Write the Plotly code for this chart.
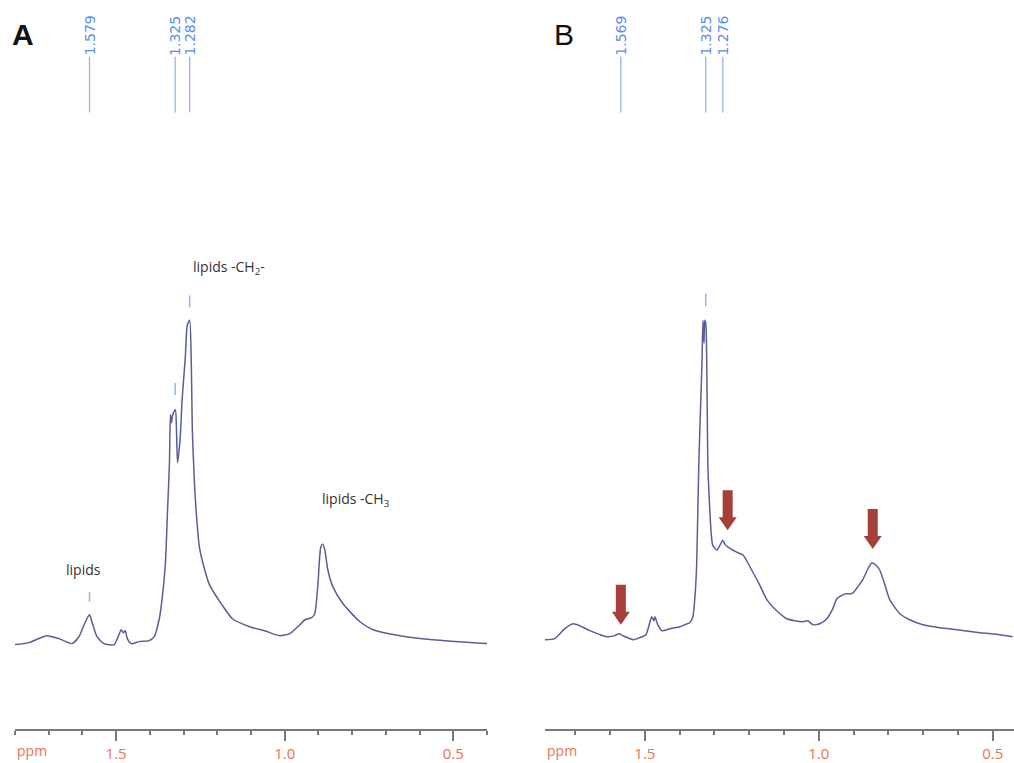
import plotly.graph_objects as go

# ---- Spectrum A (chemical shift in ppm, intensity in arbitrary units) ----
ppm_a = [1.800, 1.759, 1.705, 1.670, 1.631, 1.610, 1.595, 1.579, 1.571, 1.557,
         1.536, 1.506, 1.494, 1.485, 1.479, 1.473, 1.467, 1.455, 1.432, 1.402,
         1.387, 1.372, 1.363, 1.354, 1.348, 1.342, 1.339, 1.336, 1.333, 1.327,
         1.324, 1.321, 1.318, 1.310, 1.304, 1.295, 1.289, 1.282, 1.277, 1.274,
         1.268, 1.262, 1.253, 1.238, 1.223, 1.188, 1.155, 1.104, 1.060, 1.015,
         0.985, 0.955, 0.940, 0.920, 0.911, 0.902, 0.893, 0.887, 0.881, 0.872,
         0.857, 0.827, 0.777, 0.738, 0.658, 0.560, 0.400]
int_a = [0, 2, 9, 6, 1, 8, 20, 30, 22, 8,
         1, 0, 8, 15, 12, 14, 6, 1, 3, 4,
         8, 26, 48, 81, 131, 181, 231, 223, 230, 235,
         236, 215, 183, 208, 248, 288, 321, 326, 281, 215,
         165, 131, 98, 76, 60, 41, 26, 18, 14, 9,
         11, 20, 25, 27, 31, 58, 98, 101, 95, 75,
         58, 41, 23, 15, 9, 5, 1]

# ---- Spectrum B ----
ppm_b = [1.787, 1.759, 1.730, 1.707, 1.687, 1.658, 1.629, 1.609, 1.586, 1.575,
         1.563, 1.534, 1.514, 1.497, 1.486, 1.480, 1.474, 1.471, 1.463, 1.451,
         1.428, 1.399, 1.385, 1.371, 1.362, 1.356, 1.351, 1.345, 1.336, 1.333,
         1.330, 1.328, 1.325, 1.322, 1.319, 1.313, 1.310, 1.305, 1.293, 1.284,
         1.276, 1.270, 1.261, 1.236, 1.218, 1.193, 1.170, 1.149, 1.121, 1.092,
         1.069, 1.046, 1.032, 1.017, 0.997, 0.977, 0.960, 0.948, 0.925, 0.911,
         0.902, 0.888, 0.874, 0.859, 0.848, 0.836, 0.825, 0.810, 0.796, 0.767,
         0.739, 0.701, 0.652, 0.603, 0.537, 0.480, 0.443]
int_b = [5, 6, 16, 21, 19, 14, 10, 8, 9, 11,
         9, 5, 7, 10, 22, 28, 24, 28, 20, 14,
         16, 18, 20, 22, 28, 48, 81, 181, 281, 326,
         303, 326, 323, 281, 181, 133, 115, 100, 95, 100,
         105, 101, 98, 93, 90, 75, 60, 45, 34, 26,
         24, 23, 24, 20, 21, 26, 36, 46, 51, 51,
         52, 58, 65, 76, 82, 80, 75, 60, 45, 31,
         25, 20, 17, 15, 12, 10, 8]

# ---- Peak-pick labels ----
picks_a = [1.579, 1.325, 1.282]
picks_b = [1.569, 1.325, 1.276]

# short peak markers: (ppm, lower intensity, upper intensity)
marks_a = [(1.579, 43, 53), (1.325, 251, 263), (1.282, 339, 351)]
marks_b = [(1.325, 340, 353)]

# ---- Assignments (text, ppm, intensity) ----
assign_a = [("lipids", 1.598, 76),
            ("lipids -CH<sub>2</sub>-", 1.164, 379),
            ("lipids -CH<sub>3</sub>", 0.790, 146)]

# ---- Arrows in B (ppm, intensity of arrow tip) ----
arrows_b = [(1.569, 20), (1.262, 115), (0.845, 96)]

LINE = "#5b5e95"
PICK_TXT = "#5b8def"
PICK_LINE = "#93b3f2"
TICK_TXT = "#f0704f"
AXIS = "#7a7a7a"
ARROW = "#a63e3a"

Y_TOP = 648
Y_BOT = -85
LABEL_LO, LABEL_HI, LABEL_TXT = 535, 591, 612

fig = go.Figure()
for xr, xs, ys in (("x", ppm_a, int_a), ("x2", ppm_b, int_b)):
    fig.add_trace(go.Scatter(x=xs, y=ys, mode="lines", xaxis=xr, yaxis="y",
                             line=dict(color=LINE, width=1.5, shape="spline",
                                       smoothing=0.6),
                             hoverinfo="skip"))

shapes = []
annotations = []

for xr, picks, marks in (("x", picks_a, marks_a), ("x2", picks_b, marks_b)):
    for p in picks:
        shapes.append(dict(type="line", xref=xr, yref="y", x0=p, x1=p,
                           y0=LABEL_LO, y1=LABEL_HI,
                           line=dict(color=PICK_LINE, width=1.3)))
        annotations.append(dict(xref=xr, yref="y", x=p, y=LABEL_TXT,
                                text=f"{p:.3f}",
                                textangle=-90, showarrow=False,
                                xanchor="center", yanchor="middle",
                                font=dict(family="DejaVu Sans", size=14, color=PICK_TXT)))
    for p, lo, hi in marks:
        shapes.append(dict(type="line", xref=xr, yref="y", x0=p, x1=p, y0=lo, y1=hi,
                           line=dict(color=PICK_LINE, width=1.5)))

for txt, p, v in assign_a:
    annotations.append(dict(xref="x", yref="y", x=p, y=v, text=txt, showarrow=False,
                            xanchor="center", yanchor="middle",
                            font=dict(family="Open Sans", size=14, color="#333333")))

# block arrows pointing down at the changed resonances
arrow_path = "M 0 0 L -9 13 L -5 13 L -5 40 L 5 40 L 5 13 L 9 13 Z"
for p, v in arrows_b:
    shapes.append(dict(type="path", xref="x2", yref="y",
                       xsizemode="pixel", ysizemode="pixel",
                       xanchor=p, yanchor=v, path=arrow_path,
                       fillcolor=ARROW, line=dict(width=0)))

# panel letters and ppm captions
annotations.append(dict(xref="paper", yref="paper", x=23 / 1014, y=1 - 35 / 763,
                        text="<b>A</b>", showarrow=False, xanchor="center", yanchor="middle",
                        font=dict(family="Liberation Sans", size=30, color="#111111")))
annotations.append(dict(xref="paper", yref="paper", x=564 / 1014, y=1 - 35 / 763,
                        text="B", showarrow=False, xanchor="center", yanchor="middle",
                        font=dict(family="Liberation Sans", size=30, color="#111111")))
for xr in ("x", "x2"):
    annotations.append(dict(xref=f"{xr} domain", yref="paper", x=0, y=1 - 754 / 763,
                            text="ppm", showarrow=False, xanchor="left", yanchor="middle",
                            font=dict(family="Open Sans", size=14, color=TICK_TXT)))

axis_style = dict(showgrid=False, zeroline=False, showline=True, linecolor=AXIS,
                  linewidth=1.5, ticks="outside", ticklen=10, tickwidth=1.5,
                  tickcolor=AXIS, tick0=0, dtick=0.5, tickformat=".1f",
                  tickfont=dict(family="Open Sans", size=15, color=TICK_TXT),
                  minor=dict(ticks="outside", dtick=0.1, tick0=0, ticklen=4,
                             tickwidth=1.5, tickcolor=AXIS, showgrid=False),
                  anchor="y", fixedrange=True)

fig.update_layout(
    width=1014, height=763,
    margin=dict(l=0, r=0, t=0, b=0),
    paper_bgcolor="white", plot_bgcolor="white",
    showlegend=False,
    xaxis=dict(domain=[15 / 1014, 487 / 1014], range=[1.80, 0.40], **axis_style),
    xaxis2=dict(domain=[545 / 1014, 1.0], range=[1.787, 0.439], **axis_style),
    yaxis=dict(domain=[30 / 763, 1.0], range=[Y_BOT, Y_TOP], visible=False,
               fixedrange=True),
    shapes=shapes,
    annotations=annotations,
)

fig.write_html("out.html")
